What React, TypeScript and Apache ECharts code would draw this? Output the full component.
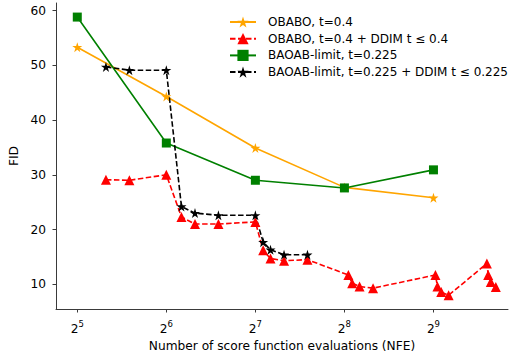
import React, { useEffect, useRef } from "react";
import * as echarts from "echarts";

// ---- data ----
const seriesNames = [
  "OBABO, t=0.4",
  "OBABO, t=0.4 + DDIM t \u2264 0.4",
  "BAOAB-limit, t=0.225",
  "BAOAB-limit, t=0.225 + DDIM t \u2264 0.225",
];

const obaboNFE = [32, 64, 128, 256, 512];
const obaboFID = [53.3, 44.3, 34.9, 27.7, 25.8];

const obaboDdimNFE = [40, 48, 64, 72, 80, 96, 128, 136, 144, 160, 192, 264, 272, 288, 320, 520, 528, 544, 576, 776, 784, 800, 832];
const obaboDdimFID = [29.1, 29.0, 30.0, 22.3, 21.0, 21.0, 21.4, 16.2, 14.7, 14.3, 14.5, 11.7, 10.2, 9.6, 9.3, 11.7, 9.6, 8.6, 8.0, 13.8, 11.7, 10.4, 9.5];

const baoabNFE = [32, 64, 128, 256, 512];
const baoabFID = [58.8, 35.8, 29.0, 27.6, 30.9];

const baoabDdimNFE = [40, 48, 64, 72, 80, 96, 128, 136, 144, 160, 192];
const baoabDdimFID = [49.7, 49.1, 49.1, 24.2, 23.0, 22.6, 22.6, 17.7, 16.3, 15.4, 15.4];

const xTicks = [32, 64, 128, 256, 512];
const yTicks = [10, 20, 30, 40, 50, 60];

const STAR =
  "path://M0,-1 L0.2245,-0.309 L0.951,-0.309 L0.363,0.118 L0.588,0.809 L0,0.382 L-0.588,0.809 L-0.363,0.118 L-0.951,-0.309 L-0.2245,-0.309 Z";

const zip = (xs: number[], ys: number[]) => xs.map((x, i) => [x, ys[i]]);

const FONT = "DejaVu Sans";
const AXIS_COLOR = "#3a3a3a";

export default function App() {
  const ref = useRef<HTMLDivElement>(null);
  useEffect(() => {
    if (!ref.current) return;
    const chart = echarts.init(ref.current, undefined, { renderer: "svg" });
    chart.setOption({
      animation: false,
      textStyle: { fontFamily: FONT },
      grid: { left: 56, right: 1, top: 3, bottom: 44, outerBoundsMode: "none", containLabel: false },
      legend: {
        orient: "vertical",
        left: 224,
        top: 11,
        itemWidth: 26,
        itemHeight: 14,
        itemGap: 4.7,
        textStyle: { fontFamily: FONT, fontSize: 12, color: "#000", padding: [0, 0, 0, 7] },
        data: seriesNames,
      },
      xAxis: {
        type: "log",
        logBase: 2,
        min: Math.pow(2, 4.761),
        max: Math.pow(2, 9.837),
        name: "Number of score function evaluations (NFE)",
        nameLocation: "middle",
        nameGap: 27,
        nameTextStyle: { fontFamily: FONT, fontSize: 12.2, color: "#000" },
        splitLine: { show: false },
        axisLine: { show: true, lineStyle: { color: AXIS_COLOR, width: 1 } },
        axisTick: { show: true, length: 3.5, customValues: xTicks, lineStyle: { color: AXIS_COLOR } },
        axisLabel: {
          customValues: xTicks,
          margin: 8,
          color: "#000",
          formatter: (v: number) => `{b|2}{s|${Math.round(Math.log2(v))}}`,
          rich: {
            b: { fontFamily: FONT, fontSize: 12.2, color: "#000", padding: [6, 0, 0, 0] },
            s: { fontFamily: FONT, fontSize: 8.5, color: "#000", padding: [0, 0, 4, 0] },
          },
        },
      },
      yAxis: {
        type: "value",
        min: 5.49,
        max: 61.37,
        name: "FID",
        nameLocation: "middle",
        nameGap: 35,
        nameTextStyle: { fontFamily: FONT, fontSize: 12.2, color: "#000" },
        splitLine: { show: false },
        axisLine: { show: true, lineStyle: { color: AXIS_COLOR, width: 1 } },
        axisTick: { show: true, length: 3.5, customValues: yTicks, lineStyle: { color: AXIS_COLOR } },
        axisLabel: {
          customValues: yTicks,
          margin: 10,
          fontFamily: FONT,
          fontSize: 12.2,
          color: "#000",
        },
      },
      series: [
        {
          name: seriesNames[0],
          type: "line",
          data: zip(obaboNFE, obaboFID),
          symbol: STAR,
          symbolSize: 10,
          lineStyle: { color: "#FFA500", width: 1.6 },
          itemStyle: { color: "#FFA500" },
        },
        {
          name: seriesNames[1],
          type: "line",
          data: zip(obaboDdimNFE, obaboDdimFID),
          symbol: "triangle",
          symbolSize: 10,
          lineStyle: { color: "#FF0000", width: 1.6, type: [5.5, 2.5] },
          itemStyle: { color: "#FF0000" },
        },
        {
          name: seriesNames[2],
          type: "line",
          data: zip(baoabNFE, baoabFID),
          symbol: "rect",
          symbolSize: 9,
          lineStyle: { color: "#008000", width: 1.6 },
          itemStyle: { color: "#008000" },
        },
        {
          name: seriesNames[3],
          type: "line",
          data: zip(baoabDdimNFE, baoabDdimFID),
          symbol: STAR,
          symbolSize: 10,
          lineStyle: { color: "#000000", width: 1.6, type: [5.5, 2.5] },
          itemStyle: { color: "#000000" },
        },
      ],
    });
    return () => chart.dispose();
  }, []);
  return (
    <div
      ref={ref}
      style={{ position: "fixed", left: 0, top: 0, width: 509, height: 353, background: "#fff" }}
    />
  );
}
